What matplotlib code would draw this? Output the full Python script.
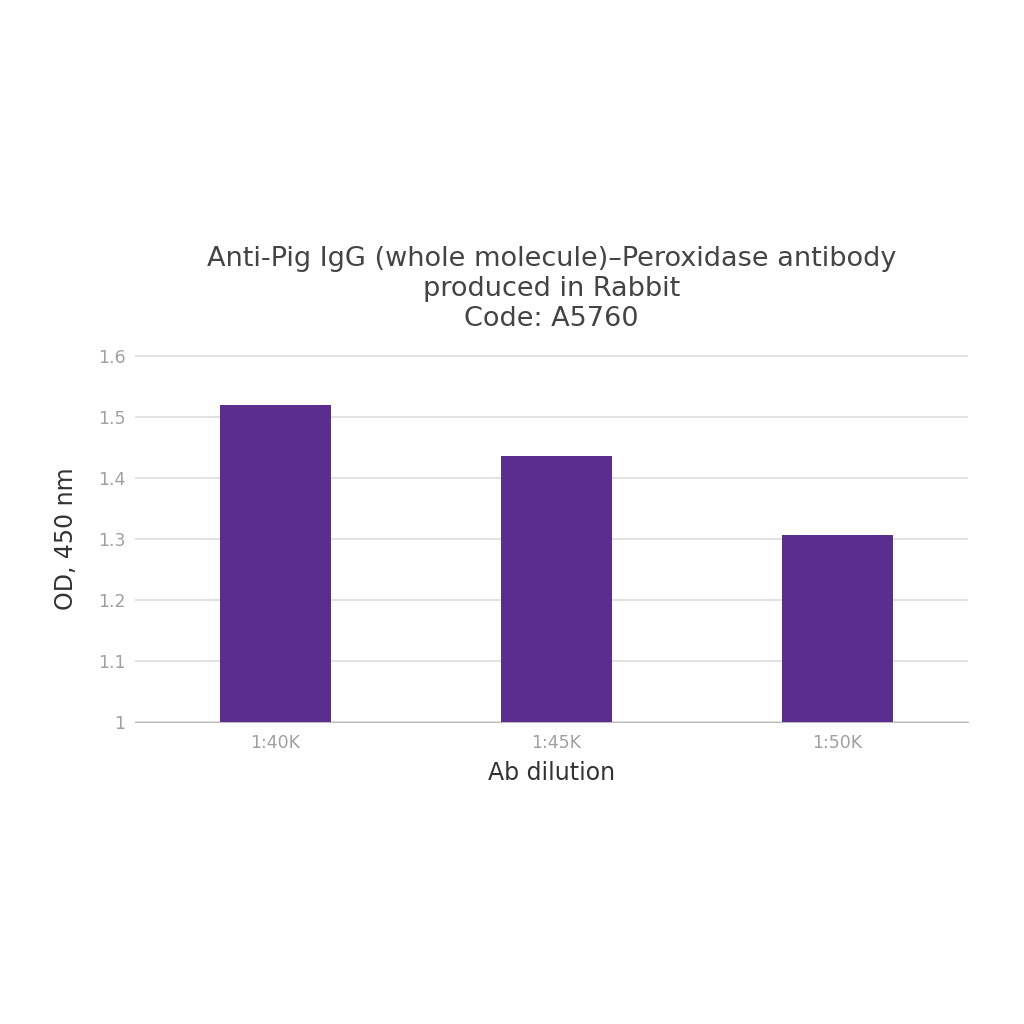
import matplotlib.pyplot as plt

plt.rcParams["font.family"] = ["DejaVu Sans"]

categories = ["1:40K", "1:45K", "1:50K"]
od_values = [1.52, 1.435, 1.307]
y_ticks = [1, 1.1, 1.2, 1.3, 1.4, 1.5, 1.6]
y_tick_labels = ["1", "1.1", "1.2", "1.3", "1.4", "1.5", "1.6"]

fig = plt.figure(figsize=(10.24, 10.24), dpi=100)
ax = fig.add_axes([0.132, 0.295, 0.813, 0.358])

x = list(range(len(categories)))
ax.bar(x, [v - 1 for v in od_values], bottom=1, width=0.395, color="#5b2d8e", zorder=3)

ax.set_xlim(-0.5, 2.465)
ax.set_ylim(1, 1.6008)
ax.set_yticks(y_ticks)
ax.set_yticklabels(y_tick_labels)
ax.set_xticks(x)
ax.set_xticklabels(categories)
ax.grid(axis="y", color="#dddddd", linewidth=1.2, zorder=0)
for side in ["top", "right", "left"]:
    ax.spines[side].set_visible(False)
ax.spines["bottom"].set_color("#bbbbbb")
ax.tick_params(axis="both", length=0, labelsize=12.5, colors="#a0a0a0")
ax.tick_params(axis="y", pad=7)
ax.tick_params(axis="x", pad=9)

ax.set_xlabel("Ab dilution", fontsize=17, color="#333333", labelpad=6)
ax.set_ylabel("OD, 450 nm", fontsize=17, color="#333333", labelpad=14)
ax.set_title("Anti-Pig IgG (whole molecule)\u2013Peroxidase antibody\nproduced in Rabbit\nCode: A5760",
             fontsize=19.5, color="#444444", pad=21, linespacing=1.2)

fig.savefig("out.png")
